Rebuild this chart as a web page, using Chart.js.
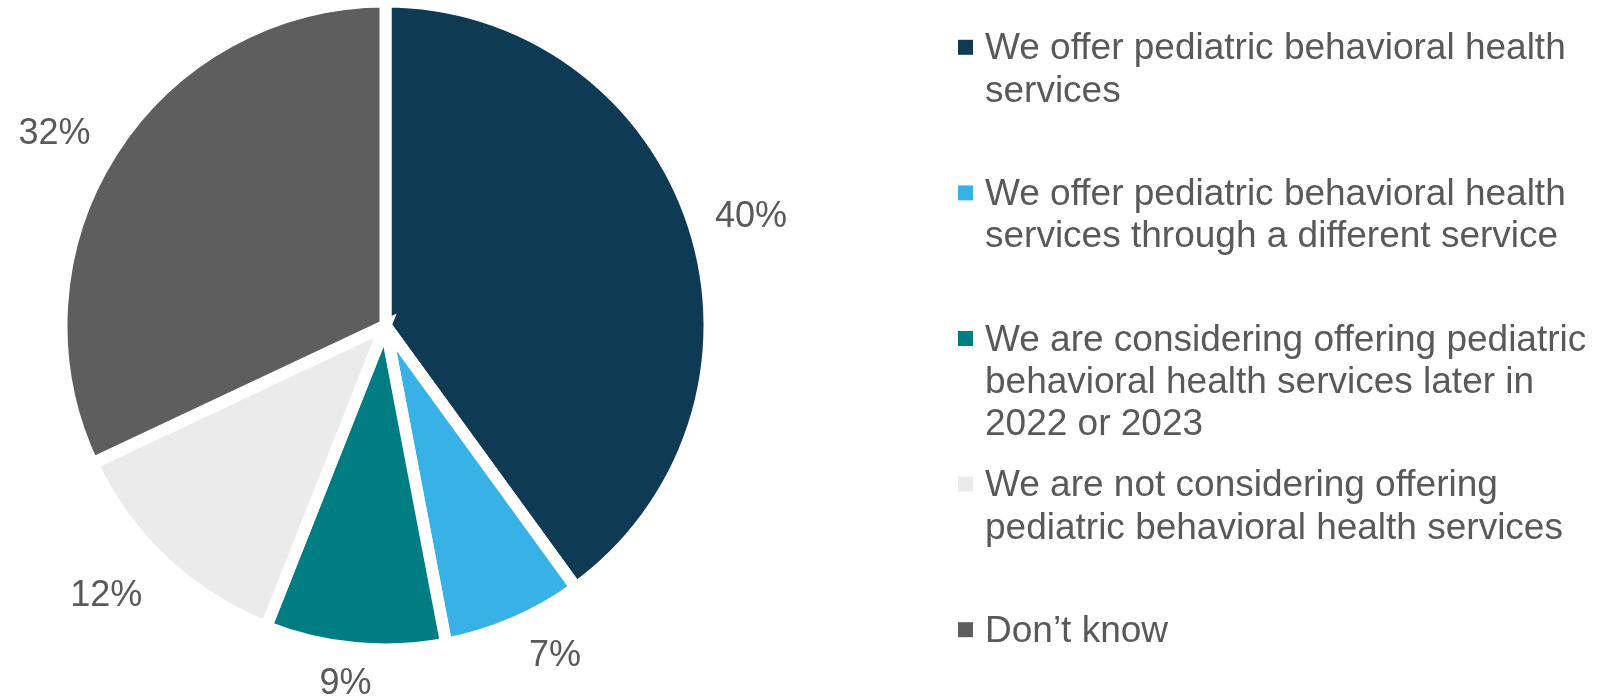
<!DOCTYPE html>
<html>
<head>
<meta charset="utf-8">
<title>Pediatric behavioral health services</title>
<script src="https://cdn.jsdelivr.net/npm/chart.js@4.4.1/dist/chart.umd.min.js"></script>
<style>
  body { margin: 0; background: #fff; }
  .chart-box { width: 1604px; height: 698px; position: relative; }
</style>
</head>
<body>
<div class="chart-box"><canvas id="pieChart"></canvas></div>
<script>
// Answers, one array entry per legend line
var categories = [
    ['We offer pediatric behavioral health', 'services'],
    ['We offer pediatric behavioral health', 'services through a different service'],
    ['We are considering offering pediatric', 'behavioral health services later in', '2022 or 2023'],
    ['We are not considering offering', 'pediatric behavioral health services'],
    ['Don\u2019t know']
]
var shares = [40, 7, 9, 12, 32]
var sliceColors = ['#0F3A53', '#38B1E6', '#007C83', '#EBEBEB', '#5E5E5E']

var textGrey = '#595959'
var fontFamily = '"Liberation Sans", Arial, sans-serif'

//small hand tweaks so the labels sit where they were placed originally (degrees / px)
var labelTurn = [1, -4, 1, 3, -2]
var labelPush = [-1, 0, -3, 7, 1]

//Percent labels just outside each slice
var outsideLabels = {
    id: 'outsideLabels',
    afterDatasetsDraw: function(chart) {
        var ctx = chart.ctx
        var meta = chart.getDatasetMeta(0)
        ctx.save()
        ctx.font = '36px ' + fontFamily
        ctx.fillStyle = textGrey
        ctx.textAlign = 'center'
        ctx.textBaseline = 'middle'
        meta.data.forEach(function(arc, i) {
            var p = arc.getProps(['x', 'y', 'startAngle', 'endAngle', 'outerRadius'], true)
            var mid = (p.startAngle + p.endAngle) / 2 + labelTurn[i] * Math.PI / 180
            var dx = Math.cos(mid), dy = Math.sin(mid)
            var text = shares[i] + '%'
            var halfW = ctx.measureText(text).width / 2
            var r = p.outerRadius + 21 + labelPush[i] + Math.abs(dx) * halfW + Math.abs(dy) * 13
            ctx.fillText(text, p.x + dx * r, p.y + dy * r + 3)
        })
        ctx.restore()
    }
}

//Legend on the right, every entry gets the same slot height
var sideLegend = {
    id: 'sideLegend',
    afterDraw: function(chart) {
        var ctx = chart.ctx
        var colors = chart.data.datasets[0].backgroundColor
        var left = 958, textLeft = 985, firstBase = 59.3, slot = 145.6, lineGap = 42.4
        ctx.save()
        ctx.font = '37px ' + fontFamily
        ctx.textAlign = 'left'
        ctx.textBaseline = 'alphabetic'
        chart.data.labels.forEach(function(lines, i) {
            var base = firstBase + i * slot
            ctx.fillStyle = colors[i]
            ctx.fillRect(left, base - 19.5, 15, 15)
            ctx.fillStyle = textGrey
            lines.forEach(function(line, j) {
                ctx.fillText(line, textLeft, base + j * lineGap)
            })
        })
        ctx.restore()
    }
}

var ctx = document.getElementById('pieChart').getContext('2d');
var pieChart = new Chart(ctx, {
    type: 'pie',
    data: {
        labels: categories,
        datasets: [{
            data: shares,
            backgroundColor: sliceColors,
            borderColor: '#ffffff',
            borderWidth: 12,
            borderJoinStyle: 'miter',
            radius: 324
        }]
    },
    options: {
        responsive: true,
        maintainAspectRatio: false,
        animation: false,
        layout: {
            padding: { left: 0, top: 1, right: 833, bottom: 48 }
        },
        plugins: {
            legend: { display: false },
            tooltip: { enabled: false }
        }
    },
    plugins: [outsideLabels, sideLegend]
});
</script>
</body>
</html>
